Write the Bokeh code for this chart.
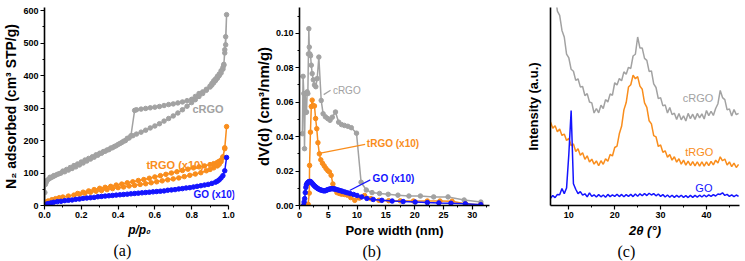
from bokeh.plotting import figure
from bokeh.layouts import row
from bokeh.models import Range1d, FixedTicker, NumeralTickFormatter, Label, Title
from bokeh.embed import file_html
from bokeh.resources import INLINE

# ---------------------------------------------------------------- data
# (a) N2 sorption isotherms: relative pressure vs adsorbed volume (cm3 STP/g)
crgo_p = [0.0, 0.002, 0.005, 0.01, 0.02, 0.03, 0.04, 0.05, 0.06, 0.08, 0.10, 0.12, 0.14, 0.16,
          0.18, 0.20, 0.22, 0.24, 0.26, 0.28, 0.30, 0.32, 0.34, 0.36, 0.38, 0.40, 0.42, 0.44,
          0.46, 0.48, 0.50, 0.525, 0.55, 0.575, 0.60, 0.625, 0.65, 0.675, 0.70, 0.725, 0.75,
          0.775, 0.80, 0.82, 0.84, 0.86, 0.88, 0.90, 0.91, 0.92, 0.93, 0.94, 0.95, 0.96, 0.97,
          0.975, 0.98, 0.985, 0.99,
          0.985, 0.98, 0.975, 0.97, 0.96, 0.95, 0.94, 0.93, 0.92, 0.91, 0.90, 0.88, 0.86, 0.84,
          0.82, 0.80, 0.775, 0.75, 0.725, 0.70, 0.675, 0.65, 0.625, 0.60, 0.575, 0.55, 0.525,
          0.50, 0.49, 0.47, 0.45, 0.43, 0.41, 0.39, 0.37, 0.35, 0.33, 0.31, 0.29, 0.27, 0.25,
          0.23, 0.21, 0.19, 0.17, 0.15, 0.13, 0.11, 0.09, 0.07, 0.05, 0.03, 0.01]
crgo_v = [0, 40, 65, 72, 80, 84, 87, 90, 93, 98, 106, 111, 117, 123,
          128, 134, 140, 145, 150, 156, 161, 166, 171, 177, 182, 188, 194, 200,
          208, 215, 220, 226, 232, 239, 245, 252, 260, 268, 276, 285, 295,
          306, 317, 326, 336, 345, 355, 365, 371, 378, 385, 392, 400, 408, 420,
          435, 470, 520, 588,
          495, 480, 432, 425, 415, 405, 398, 390, 384, 376, 368, 358, 350, 345,
          336, 327, 323, 319, 316, 313, 311, 308, 305, 303, 301, 299, 297,
          295, 293, 215, 207, 198, 191, 184, 178, 172, 167, 161, 155, 149, 143,
          137, 131, 125, 119, 114, 109, 104, 100, 96, 92, 87, 76]

trgo_p = [0.0, 0.005, 0.01, 0.02, 0.04, 0.06, 0.08, 0.10, 0.13, 0.16, 0.19, 0.22, 0.25, 0.28,
          0.31, 0.34, 0.37, 0.40, 0.43, 0.46, 0.49, 0.52, 0.55, 0.58, 0.61, 0.64, 0.67, 0.70,
          0.73, 0.76, 0.79, 0.82, 0.85, 0.88, 0.90, 0.92, 0.94, 0.95, 0.96, 0.97, 0.98, 0.99,
          0.98, 0.97, 0.96, 0.95, 0.94, 0.92, 0.90, 0.87, 0.84, 0.81, 0.78, 0.75, 0.72, 0.69,
          0.66, 0.63, 0.60, 0.57, 0.54, 0.51, 0.48, 0.45, 0.42, 0.39, 0.36, 0.33, 0.30, 0.27,
          0.24, 0.21, 0.18]
trgo_v = [3, 8, 11, 14, 18, 21, 24, 26, 29, 32, 35, 38, 41, 44,
          46, 49, 52, 55, 57, 60, 62, 65, 67, 70, 73, 76, 79, 82,
          85, 89, 93, 97, 101, 107, 111, 116, 122, 127, 135, 148, 175, 243,
          178, 150, 140, 136, 133, 129, 126, 122, 119, 116, 112, 108, 104, 100,
          96, 92, 88, 84, 80, 77, 73, 70, 66, 63, 59, 56, 53, 49,
          45, 41, 37]

go_p = [0.0, 0.01, 0.02, 0.035, 0.05, 0.07, 0.09, 0.11, 0.13, 0.15, 0.17, 0.19, 0.21, 0.23,
        0.25, 0.27, 0.29, 0.31, 0.33, 0.35, 0.37, 0.39, 0.41, 0.43, 0.45, 0.47, 0.49, 0.51,
        0.53, 0.55, 0.57, 0.59, 0.61, 0.63, 0.65, 0.67, 0.69, 0.71, 0.73, 0.75, 0.77, 0.79,
        0.81, 0.83, 0.85, 0.87, 0.89, 0.91, 0.93, 0.94, 0.95, 0.96, 0.97, 0.98, 0.99]
go_v = [0, 4, 6, 8, 10, 12, 13, 15, 16, 17, 19, 20, 22, 23,
        24, 25, 27, 28, 29, 30, 31, 32, 33, 34, 35, 36, 37, 38,
        39, 40, 41, 42, 43, 44, 45, 47, 48, 49, 51, 52, 54, 55,
        57, 59, 61, 63, 65, 68, 72, 75, 79, 85, 92, 107, 148]

# (b) pore size distributions: pore width (nm) vs dV(d) (cm3/nm/g)
crgo_w = [0.5, 0.62, 0.75, 0.87, 1.0, 1.1, 1.22, 1.33, 1.45, 1.55, 1.62, 1.7, 1.8, 1.92,
          2.05, 2.2, 2.4, 2.6, 2.83, 3.07, 3.36, 3.77, 4.1, 4.5, 4.9, 5.3, 5.7, 6.25,
          6.8, 7.3, 7.8, 8.4, 9.0, 9.9, 10.7, 11.6, 12.6, 13.9, 15.4, 17.1, 19.0, 21.0,
          23.3, 25.8, 28.6, 31.5]
crgo_dv = [0.0417, 0.075, 0.065, 0.033, 0.065, 0.054, 0.0543, 0.066, 0.065, 0.088, 0.1027,
           0.092, 0.088, 0.087, 0.0815, 0.0766, 0.073, 0.070, 0.069, 0.0737, 0.0862, 0.061,
           0.0533, 0.0515, 0.0505, 0.0495, 0.0513, 0.0543, 0.0484, 0.047, 0.0465, 0.046,
           0.0452, 0.042, 0.0135, 0.009, 0.0075, 0.007, 0.0065, 0.006, 0.0055, 0.0055,
           0.005, 0.005, 0.0032, 0.002]

trgo_w = [0.7, 0.9, 1.1, 1.3, 1.5, 1.7, 1.75, 1.9, 2.05, 2.2, 2.4, 2.6, 2.8, 3.0, 3.2,
          3.45, 3.7, 4.0, 4.3, 4.6, 4.9, 5.2, 5.5, 5.8, 6.1, 6.5, 6.9, 7.3, 7.8, 8.3, 8.9,
          9.6, 10.4, 11.3, 12.4, 13.8, 15.5, 17.5, 19.8, 22.2, 24.4, 26.5, 28.9, 31.5]
trgo_dv = [0.0, 0.0, 0.0, 0.0, 0.0007, 0.0072, 0.0233, 0.0426, 0.0575, 0.0612, 0.058,
           0.0578, 0.0505, 0.0446, 0.0365, 0.030, 0.0265, 0.0245, 0.023, 0.0215, 0.0203,
           0.0195, 0.0175, 0.0125, 0.0095, 0.0075, 0.007, 0.0066, 0.0064, 0.006, 0.0046,
           0.003, 0.0043, 0.0058, 0.004, 0.003, 0.0028, 0.0027, 0.0026, 0.0026, 0.0026,
           0.0025, 0.0009, 0.0005]

go_w = [0.7, 0.8, 0.9, 1.0, 1.1, 1.2, 1.3, 1.45, 1.6, 1.75, 1.9, 2.05, 2.2, 2.35, 2.5,
        2.65, 2.8, 2.95, 3.1, 3.3, 3.5, 3.7, 3.9, 4.1, 4.3, 4.5, 4.7, 4.9, 5.1, 5.3, 5.5,
        5.7, 5.9, 6.1, 6.3, 6.6, 6.9, 7.2, 7.5, 7.9, 8.3, 8.8, 9.4, 10.0, 10.8, 11.7, 12.8,
        14.3, 16.1, 18.0, 20.1, 22.2, 24.2, 26.3, 28.8, 31.5]
go_dv = [0.0, 0.002, 0.004, 0.0075, 0.0105, 0.012, 0.0128, 0.0134, 0.0138, 0.014, 0.0139,
         0.0135, 0.0129, 0.0123, 0.0117, 0.0112, 0.0108, 0.0104, 0.010, 0.0096, 0.0093,
         0.009, 0.0088, 0.0086, 0.0085, 0.0086, 0.0089, 0.0092, 0.0094, 0.0096, 0.0097,
         0.0098, 0.0097, 0.0096, 0.0094, 0.0091, 0.0088, 0.0085, 0.0082, 0.0078, 0.0074,
         0.0069, 0.0064, 0.0058, 0.005, 0.0041, 0.0035, 0.003, 0.0026, 0.0023, 0.002,
         0.0017, 0.0015, 0.0013, 0.001, 0.0005]

# (c) XRD patterns, 2-theta (deg) vs intensity (arbitrary units)
two_theta = [6.0 + 0.5 * i for i in range(83)]
xrd_crgo = [119.5, 110.8, 106.8, 98.2, 96.0, 88.4, 85.1, 76.5, 74.5, 68.8, 67.8, 63.2, 64.0,
            59.9, 60.1, 55.5, 56.5, 52.3, 51.8, 46.7, 49.0, 46.8, 50.6, 49.0, 53.5, 52.3,
            56.3, 55.7, 62.0, 60.9, 64.1, 63.0, 67.5, 66.3, 69.8, 69.2, 75.5, 76.4, 85.1,
            79.5, 79.5, 74.3, 73.3, 67.7, 68.0, 61.4, 59.6, 54.0, 54.5, 50.3, 50.8, 46.7,
            49.5, 45.9, 46.6, 43.5, 46.5, 43.3, 45.3, 42.7, 46.5, 43.9, 46.1, 43.5, 46.5,
            44.3, 46.3, 43.7, 48.0, 45.4, 47.6, 45.5, 49.0, 51.4, 58.1, 54.5, 53.5, 48.3,
            48.8, 45.2, 48.5, 45.9, 46.5]
xrd_trgo = [42.2, 39.0, 40.3, 37.2, 38.6, 35.4, 36.1, 32.8, 34.0, 30.2, 31.1, 27.3, 28.7,
            25.4, 26.6, 23.3, 25.1, 22.0, 23.4, 20.9, 22.5, 20.1, 22.6, 20.8, 23.6, 22.4,
            25.8, 25.0, 29.3, 30.0, 36.2, 40.0, 48.3, 52.0, 59.8, 61.0, 65.8, 64.0, 65.1,
            60.3, 58.7, 51.8, 49.6, 42.8, 41.2, 35.3, 34.7, 29.8, 30.6, 26.9, 27.6, 24.4,
            25.7, 22.9, 24.6, 21.9, 23.6, 20.9, 22.9, 20.4, 22.4, 20.2, 22.2, 20.0, 22.1,
            19.9, 22.1, 19.9, 22.0, 20.1, 22.3, 20.5, 22.9, 21.5, 24.6, 22.6, 23.5, 20.4,
            22.0, 19.6, 21.4, 19.2, 20.8]
xrd_go = [3.6, 5.0, 4.0, 5.6, 5.4, 8.6, 6.0, 8.8, 26.0, 48.0, 11.0, 8.2, 6.0, 7.0, 5.2, 5.9,
          4.4, 6.4, 4.6, 5.4, 4.3, 5.5, 4.4, 5.3, 4.2, 5.6, 4.5, 5.4, 4.6, 5.7, 4.5, 5.6,
          4.4, 5.5, 4.6, 5.6, 4.5, 5.8, 4.7, 5.9, 4.9, 6.1, 5.0, 6.2, 5.3, 6.0, 4.9, 5.8,
          4.6, 5.5, 4.3, 5.3, 4.2, 5.2, 4.1, 5.1, 4.2, 5.2, 4.1, 5.0, 4.0, 5.1, 4.1, 5.1,
          4.2, 5.2, 4.3, 5.3, 4.4, 5.4, 4.6, 5.5, 4.8, 5.8, 5.6, 6.4, 5.1, 5.6, 4.6, 5.4,
          4.5, 5.3, 4.6]

# axis ticks
a_xticks = [0.0, 0.2, 0.4, 0.6, 0.8, 1.0]
a_xminor = [0.1, 0.3, 0.5, 0.7, 0.9]
a_yticks = [0, 100, 200, 300, 400, 500, 600]
a_yminor = [50, 150, 250, 350, 450, 550]
b_xticks = [0, 5, 10, 15, 20, 25, 30]
b_xminor = [2.5, 7.5, 12.5, 17.5, 22.5, 27.5, 32.5]
b_yticks = [0.0, 0.02, 0.04, 0.06, 0.08, 0.10]
b_yminor = [0.01, 0.03, 0.05, 0.07, 0.09, 0.11]
c_xticks = [10, 20, 30, 40]
c_xminor = [15, 25, 35, 45]

# ---------------------------------------------------------------- styling
GRAY = "#a2a2a2"
ORANGE = "#f98d1c"
BLUE = "#1414ff"
SANS = "Liberation Sans"
SERIF = "Liberation Serif"
H = 261


def make_fig(w, xr, yr, left, right, top, bottom):
    p = figure(width=w, height=H, x_range=Range1d(*xr), y_range=Range1d(*yr),
               output_backend="svg", toolbar_location=None,
               min_border_left=left, min_border_right=right,
               min_border_top=top, min_border_bottom=bottom)
    p.xgrid.visible = False
    p.ygrid.visible = False
    p.outline_line_color = None
    p.background_fill_color = "white"
    p.border_fill_color = "white"
    for ax in (p.xaxis[0], p.yaxis[0]):
        ax.axis_line_width = 1.6
        ax.axis_line_color = "black"
        ax.major_tick_in = 0
        ax.major_tick_out = 4
        ax.minor_tick_in = 0
        ax.minor_tick_out = 2
        ax.major_tick_line_width = 1.2
        ax.minor_tick_line_width = 1
        ax.major_label_text_font = SANS
        ax.major_label_text_font_style = "bold"
        ax.major_label_text_font_size = "9px"
        ax.major_label_text_color = "black"
        ax.axis_label_text_font = SANS
        ax.axis_label_text_font_style = "bold"
        ax.axis_label_text_color = "black"
    p.xaxis.major_label_standoff = 2
    p.yaxis.major_label_standoff = 2
    return p


def tag(p, x, y, text, color, size, align="left", style="bold"):
    p.add_layout(Label(x=x, y=y, text=text, text_color=color, text_font=SANS,
                       text_font_style=style, text_font_size=size,
                       text_align=align, text_baseline="middle"))


def caption(p, offset, text):
    p.add_layout(Title(text=text, align="left", offset=offset, standoff=1,
                       text_font=SERIF, text_font_size="16px",
                       text_font_style="normal", text_color="black"), "below")


# ---------------------------------------------------------------- (a)
pa = make_fig(250, (0, 1.033), (0, 610), 44, 16, 4, 56)
pa.xaxis.bounds = (0, 1.0)
pa.xaxis.ticker = FixedTicker(ticks=a_xticks, minor_ticks=a_xminor)
pa.yaxis.ticker = FixedTicker(ticks=a_yticks, minor_ticks=a_yminor)
pa.xaxis.formatter = NumeralTickFormatter(format="0.0")
pa.xaxis.axis_label = "p/p\u2080"
pa.xaxis.axis_label_text_font_style = "bold italic"
pa.xaxis.axis_label_text_font_size = "12px"
pa.xaxis.axis_label_standoff = 2
pa.yaxis.axis_label = "N\u2082 adsorbed (cm\u00b3 STP/g)"
pa.yaxis.axis_label_text_font_size = "14px"
pa.yaxis.axis_label_standoff = 1

for xs, ys, c in ((crgo_p, crgo_v, GRAY), (trgo_p, trgo_v, ORANGE), (go_p, go_v, BLUE)):
    pa.line(xs, ys, line_color=c, line_width=1.5)
    pa.scatter(xs, ys, size=4.5, fill_color=c, line_color=c)

tag(pa, 0.804, 297, "cRGO", GRAY, "11px")
tag(pa, 0.554, 124, "tRGO (x10)", ORANGE, "11px")
tag(pa, 0.81, 33, "GO (x10)", BLUE, "10px")
caption(pa, 69, "(a)")

# ---------------------------------------------------------------- (b)
pb = make_fig(250, (0, 33), (0, 0.115), 49, 11, 7, 56)
pb.xaxis.ticker = FixedTicker(ticks=b_xticks, minor_ticks=b_xminor)
pb.yaxis.ticker = FixedTicker(ticks=b_yticks, minor_ticks=b_yminor)
pb.yaxis.formatter = NumeralTickFormatter(format="0.00")
pb.xaxis.axis_label = "Pore width (nm)"
pb.xaxis.axis_label_text_font_size = "13px"
pb.xaxis.axis_label_standoff = 2
pb.yaxis.axis_label = "dV(d) (cm\u00b3/nm/g)"
pb.yaxis.axis_label_text_font_size = "15px"
pb.yaxis.axis_label_standoff = 1

for xs, ys, c in ((crgo_w, crgo_dv, GRAY), (trgo_w, trgo_dv, ORANGE), (go_w, go_dv, BLUE)):
    pb.line(xs, ys, line_color=c, line_width=1.5)
    pb.scatter(xs, ys, size=4.5, fill_color=c, line_color=c)

# leader lines from the curve tags to their curves
pb.line([4.2, 5.4], [0.0644, 0.0669], line_color=GRAY, line_width=1.2)
pb.line([3.65, 11.4], [0.0304, 0.0355], line_color=ORANGE, line_width=1.2)
pb.line([8.7, 12.3], [0.0087, 0.0149], line_color=BLUE, line_width=1.2)
tag(pb, 5.8, 0.0670, "cRGO", GRAY, "10px", style="normal")
tag(pb, 11.7, 0.0358, "tRGO (x10)", ORANGE, "10px")
tag(pb, 12.7, 0.0155, "GO (x10)", BLUE, "10px")
caption(pb, 63, "(b)")

# ---------------------------------------------------------------- (c)
pc = make_fig(245, (6, 47.2), (0, 100), 50, 6, 7, 56)
pc.xaxis.ticker = FixedTicker(ticks=c_xticks, minor_ticks=c_xminor)
pc.yaxis.ticker = FixedTicker(ticks=[])
pc.yaxis.major_tick_out = 0
pc.xaxis.axis_label = "2\u03b8 (\u00b0)"
pc.xaxis.axis_label_text_font_style = "bold italic"
pc.xaxis.axis_label_text_font_size = "13px"
pc.xaxis.axis_label_standoff = 2
pc.yaxis.axis_label = "Intensity (a.u.)"
pc.yaxis.axis_label_text_font_size = "13px"
pc.yaxis.axis_label_standoff = 10

pc.line(two_theta, xrd_crgo, line_color=GRAY, line_width=1.5)
pc.line(two_theta, xrd_trgo, line_color=ORANGE, line_width=1.5)
pc.line(two_theta, xrd_go, line_color=BLUE, line_width=1.5)
tag(pc, 41.5, 54.5, "cRGO", GRAY, "11px", align="right", style="normal")
tag(pc, 41.5, 26.8, "tRGO", ORANGE, "11px", align="right", style="normal")
tag(pc, 41.3, 8.6, "GO", BLUE, "11px", align="right", style="normal")
caption(pc, 67, "(c)")

layout = row(pa, pb, pc)
open("out.html", "w").write(file_html(layout, INLINE))
